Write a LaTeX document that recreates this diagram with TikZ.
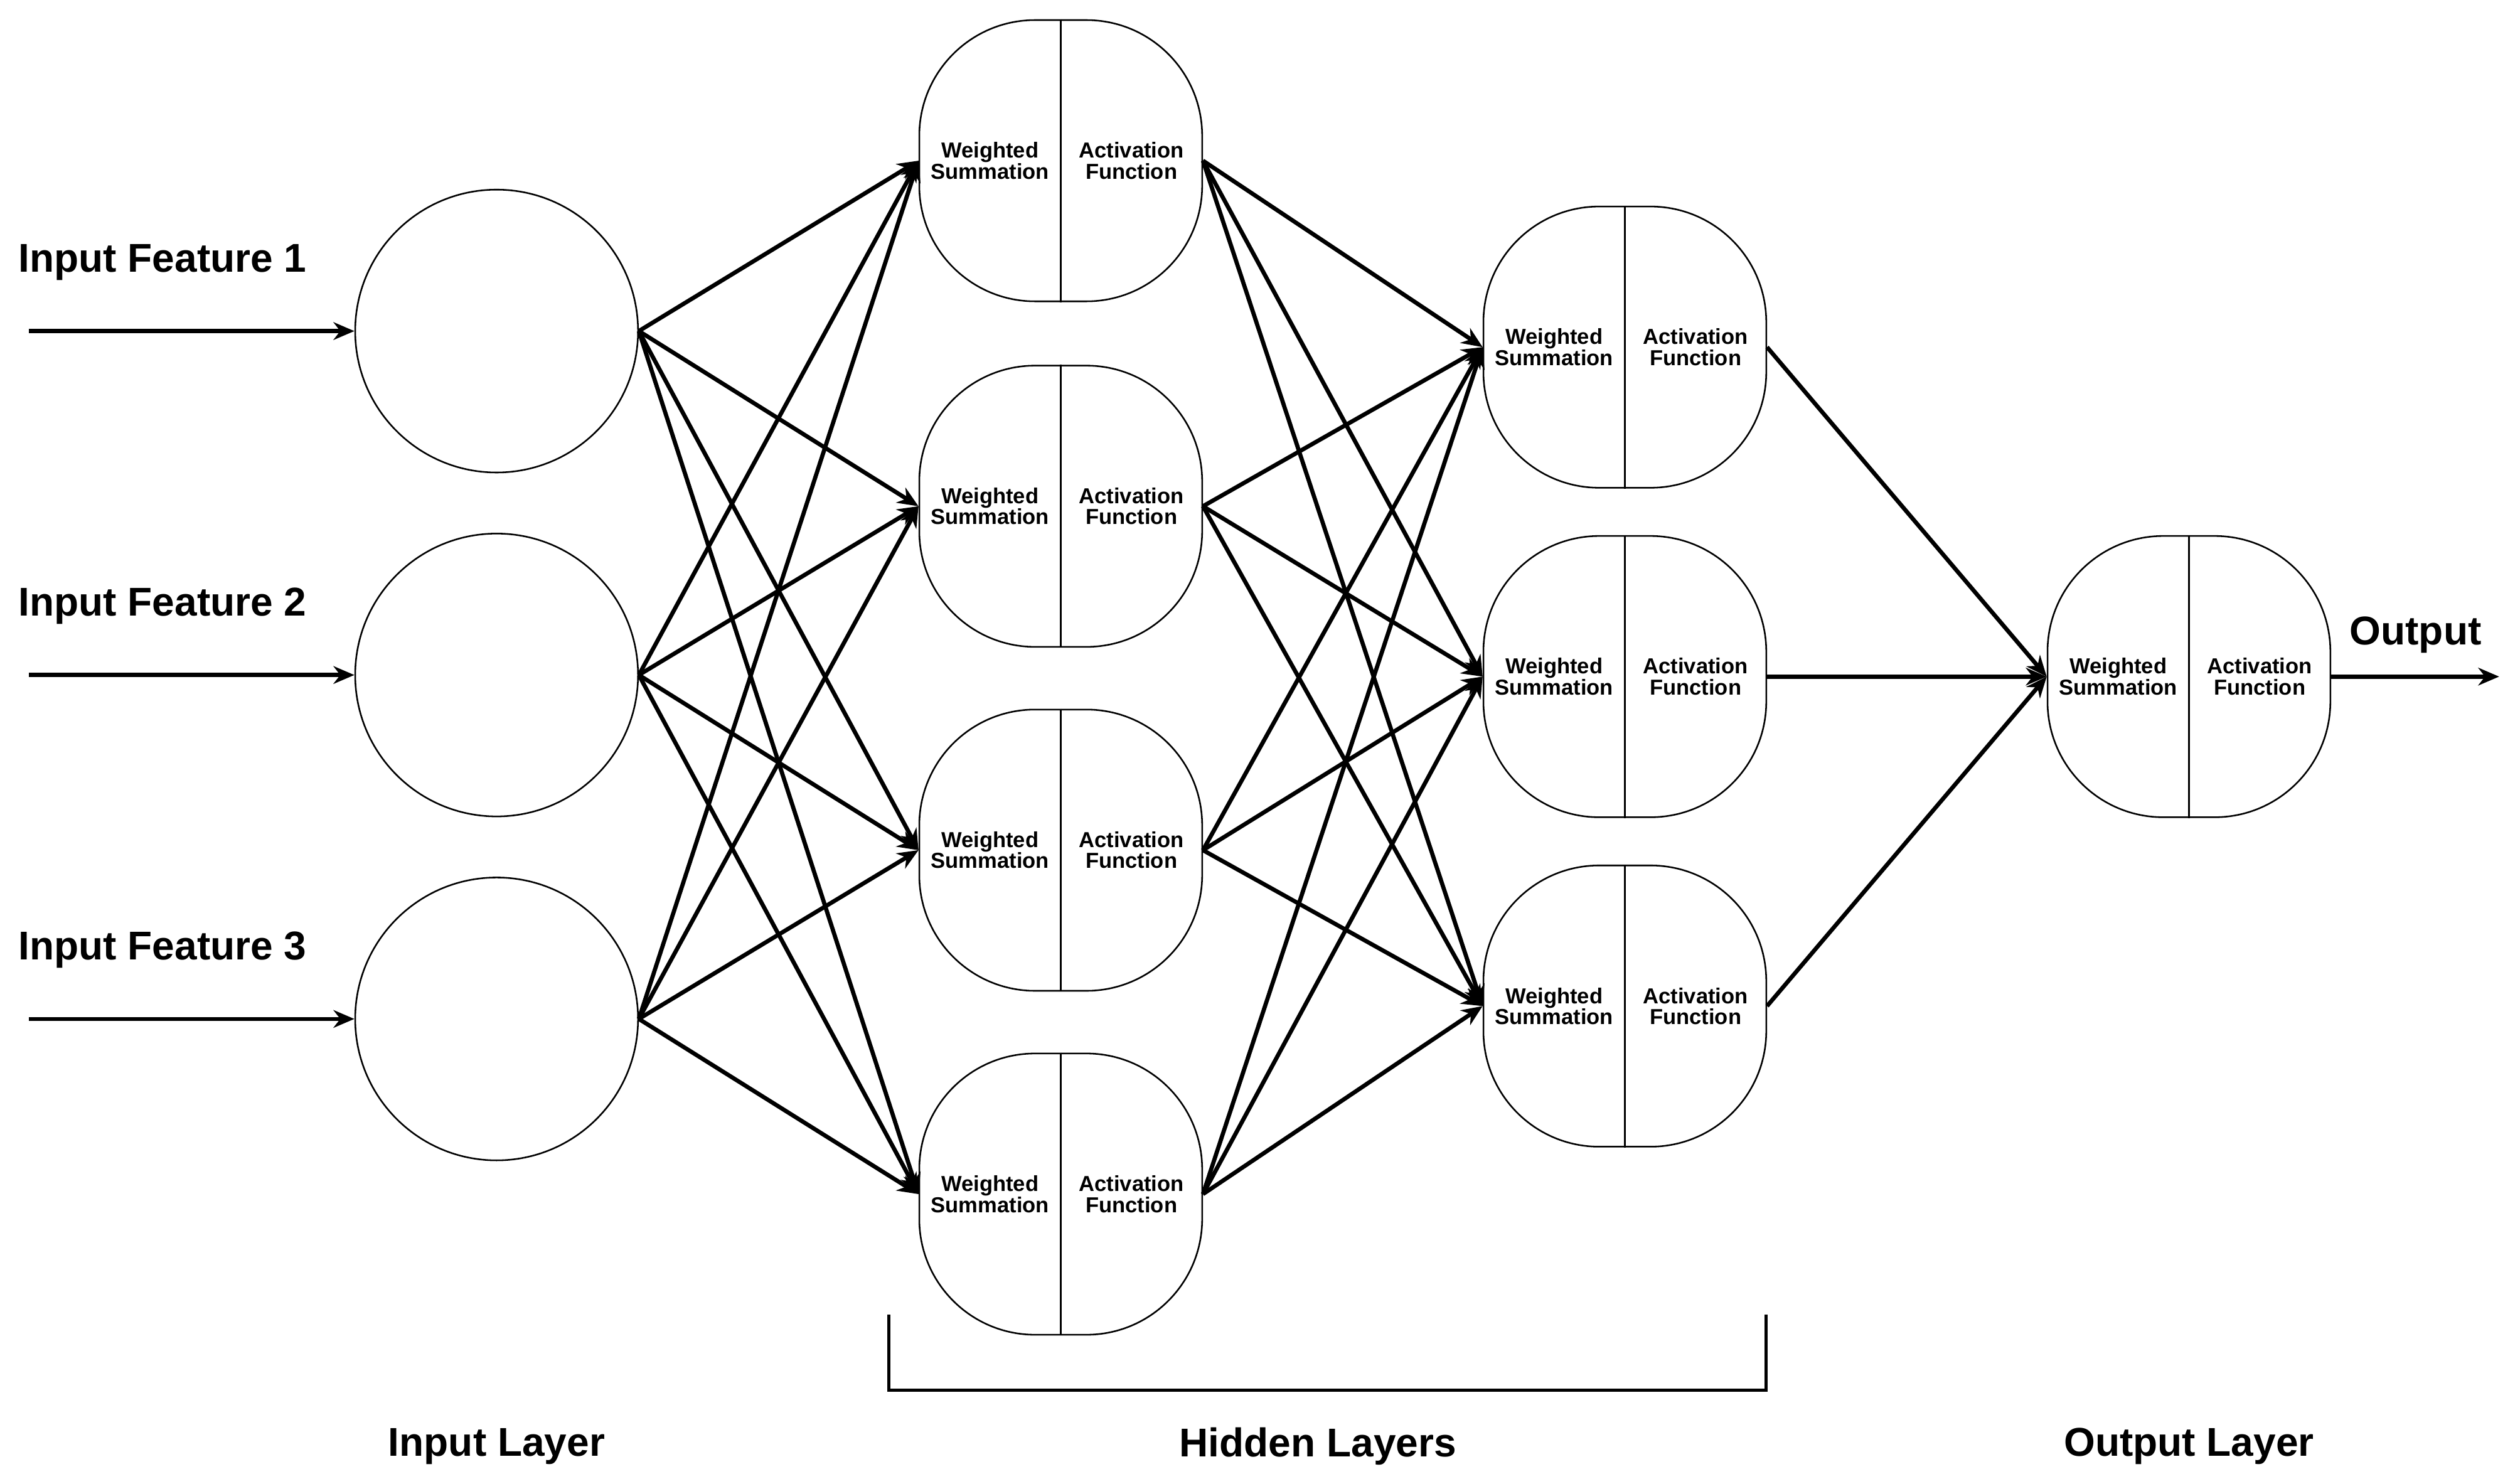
\documentclass[tikz,border=0pt]{standalone}
\usepackage{fontspec}
\setmainfont{Liberation Sans}
\usetikzlibrary{arrows.meta}
\begin{document}
\begin{tikzpicture}[x=1pt,y=-1pt,
  inp/.style={circle,draw,line width=1pt,minimum size=176pt,inner sep=0pt},
  neu/.style={rectangle,draw,line width=1pt,minimum width=176pt,minimum height=175pt,rounded corners=72pt,inner sep=0pt},
  st/.style={font=\bfseries\fontsize{13.5}{16}\selectfont,align=center},
  lab/.style={font=\bfseries\fontsize{25}{30}\selectfont},
  edge/.style={line width=2.6pt,-{Stealth[length=13pt,width=11pt]}},
  every node/.append style={text=black}]
\useasboundingbox (0,0) rectangle (1568,923);
\newcommand{\neuron}[2]{%
  \node[neu] (#1) at #2 {};
  \draw[line width=1pt] (#1.north) -- (#1.south);
  \node[st] (#1-ws) at ([xshift=-44pt]#1.center) {Weighted\\[-3pt]Summation};
  \node[st] (#1-af) at ([xshift=44pt]#1.center) {Activation\\[-3pt]Function};}
\node[inp] (i1) at (309,206) {};
\node[inp] (i2) at (309,420) {};
\node[inp] (i3) at (309,634) {};
\neuron{a1}{(660,100)}
\neuron{a2}{(660,315)}
\neuron{a3}{(660,529)}
\neuron{a4}{(660,743)}
\neuron{b1}{(1011,216)}
\neuron{b2}{(1011,421)}
\neuron{b3}{(1011,626)}
\neuron{o}{(1362,421)}
\foreach \k/\y in {1/206,2/420,3/634}{
  \coordinate (s\k) at (18,\y);
  \draw[edge] (s\k) -- (i\k.west);
  \node[lab,anchor=south west] (t\k) at (8,\y-28) {Input Feature \k};
}
\foreach \i in {1,2,3}{\foreach \j in {1,2,3,4}{\draw[edge] (i\i.east) -- (a\j.west);}}
\foreach \i in {1,2,3,4}{\foreach \j in {1,2,3}{\draw[edge] (a\i.east) -- (b\j.west);}}
\foreach \i in {1,2,3}{\draw[edge] (b\i.east) -- (o.west);}
\coordinate (oe) at (1555,421);
\draw[edge] (o.east) -- (oe);
\node[lab,anchor=south] (ot) at (1503,410) {Output};
\coordinate (br1) at (553,818);
\coordinate (br2) at (553,865);
\coordinate (br3) at (1099,865);
\coordinate (br4) at (1099,818);
\draw[line width=2pt] (br1) -- (br2) -- (br3) -- (br4);
\node[lab] (l1) at (309,900) {Input Layer};
\node[lab] (l2) at (820,900) {Hidden Layers};
\node[lab] (l3) at (1362,900) {Output Layer};
\end{tikzpicture}
\end{document}
